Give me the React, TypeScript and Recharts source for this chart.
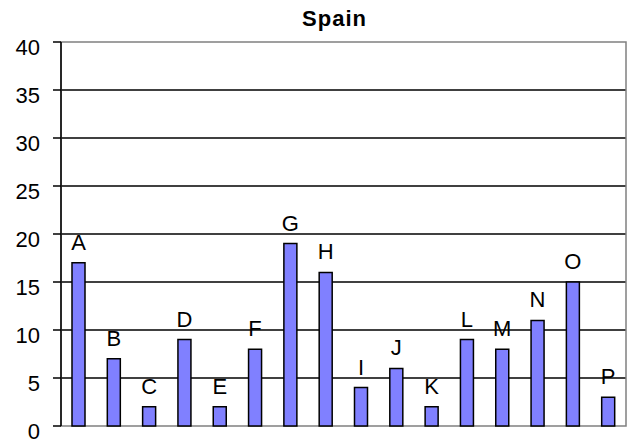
import { BarChart, Bar, XAxis, YAxis, CartesianGrid, ReferenceArea, LabelList } from 'recharts';

const categories = ['A', 'B', 'C', 'D', 'E', 'F', 'G', 'H', 'I', 'J', 'K', 'L', 'M', 'N', 'O', 'P'];
const values = [17, 7, 2, 9, 2, 8, 19, 16, 4, 6, 2, 9, 8, 11, 15, 3];
const yTicks = [0, 5, 10, 15, 20, 25, 30, 35, 40];
const gridValues = [5, 10, 15, 20, 25, 30, 35];

const data = categories.map((name, i) => ({ name, value: values[i] }));

const FONT = 'Arial, "Liberation Sans", sans-serif';

export default function App() {
  return (
    <div style={{ position: 'fixed', left: 0, top: 0, width: 629, height: 443, background: '#fff', fontFamily: FONT }}>
      <div
        style={{
          position: 'absolute',
          left: 0,
          width: 669,
          top: 6,
          textAlign: 'center',
          fontWeight: 'bold',
          fontSize: 22,
          letterSpacing: 1,
          color: '#000',
        }}
      >
        Spain
      </div>
      <BarChart
        width={629}
        height={443}
        data={data}
        margin={{ top: 42, right: 3, bottom: 17, left: 0 }}
        barCategoryGap={0}
      >
        <CartesianGrid horizontal vertical={false} horizontalValues={gridValues} stroke="#000" strokeWidth={1.5} />
        <ReferenceArea y1={0} y2={40} fill="none" stroke="#808080" strokeWidth={1.5} ifOverflow="visible" />
        <XAxis dataKey="name" hide />
        <YAxis
          width={61}
          domain={[0, 40]}
          ticks={yTicks}
          interval={0}
          axisLine={{ stroke: '#000', strokeWidth: 1.5 }}
          tickLine={{ stroke: '#000', strokeWidth: 1.5 }}
          tickSize={8}
          tickMargin={13}
          tick={{ fontSize: 22, fill: '#000', fontFamily: FONT, dy: 5 }}
        />
        <Bar dataKey="value" fill="#8080FF" stroke="#000" strokeWidth={1.5} barSize={13} isAnimationActive={false}>
          <LabelList dataKey="name" position="top" offset={13} style={{ fontSize: 22, fill: '#000', fontFamily: FONT }} />
        </Bar>
      </BarChart>
    </div>
  );
}
